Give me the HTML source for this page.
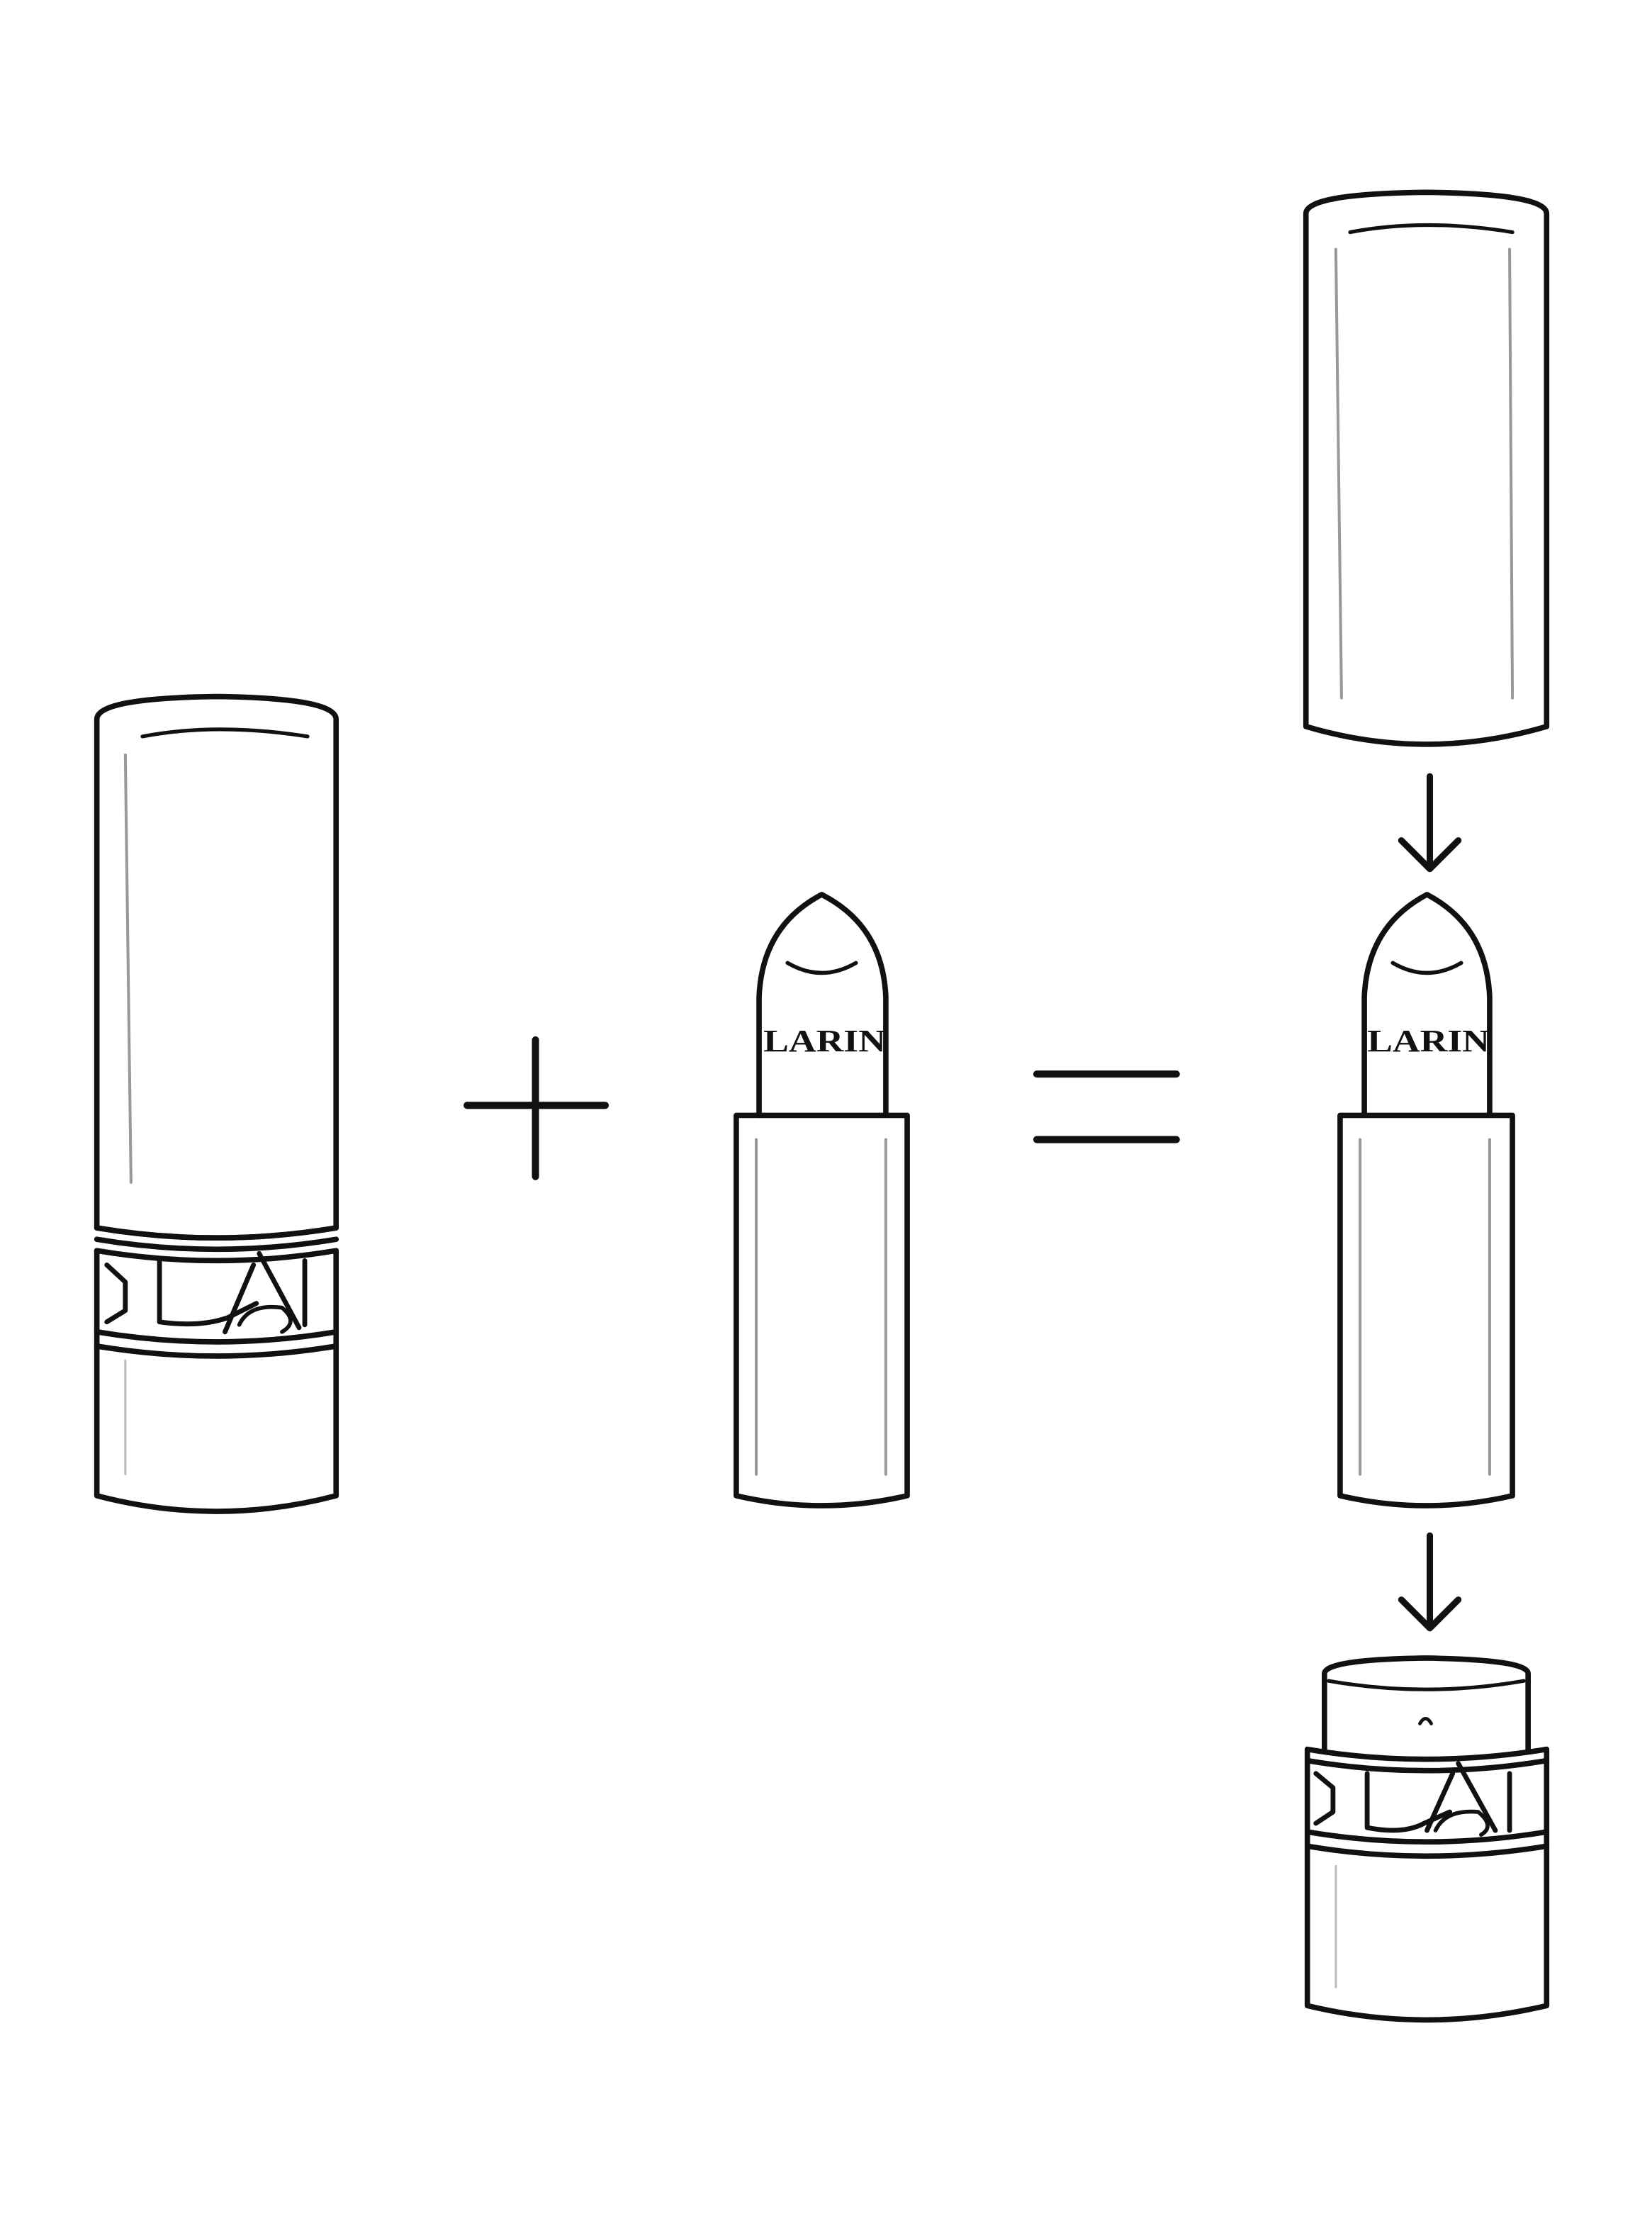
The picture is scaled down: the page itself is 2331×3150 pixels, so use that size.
<!DOCTYPE html>
<html><head><style>html,body{margin:0;padding:0;background:#fff}svg{display:block}</style></head>
<body>
<svg width="2331" height="3150" viewBox="0 0 1160 1567.6" preserveAspectRatio="none" xmlns="http://www.w3.org/2000/svg">
<g fill="none" stroke="#111" stroke-width="3.8" stroke-linecap="round" stroke-linejoin="round">
<!-- Left closed lipstick -->
<path d="M68 505 Q68 490 152 489 Q236 490 236 505 L236 862 Q152 876 68 862 Z"/>
<path d="M100 517 Q152 507 216 517" stroke-width="2.6"/>
<path d="M88 530 L92 830" stroke="#999" stroke-width="2"/>
<path d="M68 862 Q152 876 236 862 M68 870 Q152 884 236 870 M68 878 Q152 892 236 878"/>
<path d="M68 878 L68 1050 Q152 1072 236 1050 L236 878"/>
<path d="M68 935 Q152 949 236 935 M68 945 Q152 959 236 945"/>
<path d="M112 885 L112 928 Q140 932 160 925 L180 915 M178 888 L158 935 M182 880 L210 932 M214 885 L214 930 M75 888 L88 900 L88 920 L75 928" stroke-width="3.4"/>
<path d="M168 930 Q175 915 198 918 Q210 928 198 935" stroke-width="2.8"/>
<path d="M88 955 L88 1035" stroke="#bbb" stroke-width="1.5"/>
<!-- Plus & equals -->
<path d="M328 776 H425 M376 730 V826" stroke-width="5"/>
<path d="M728 754 H826 M728 800 H826" stroke-width="5"/>
<!-- Middle lipstick -->
<path d="M533 783 L533 700 Q535 650 577 628 Q620 650 622 700 L622 783"/>
<path d="M553 676 Q577 690 601 676" stroke-width="2.8"/>
<path d="M517 783 H637 V1050 Q577 1064 517 1050 Z"/>
<path d="M531 800 V1035 M622 800 V1035" stroke="#999" stroke-width="2"/>
<!-- Right top cap -->
<path d="M917 150 Q917 136 1001 135 Q1086 136 1086 150 L1086 510 Q1001 535 917 510 Z"/>
<path d="M948 163 Q1001 153 1062 163" stroke-width="2.6"/>
<path d="M938 175 L942 490 M1060 175 L1062 490" stroke="#999" stroke-width="2"/>
<!-- Arrows -->
<path d="M1004 545 V610 M984 590 L1004 610 L1024 590" stroke-width="4.5"/>
<path d="M1004 1078 V1143 M984 1123 L1004 1143 L1024 1123" stroke-width="4.5"/>
<!-- Right lipstick -->
<path d="M958 783 L958 700 Q960 650 1002 628 Q1044 650 1046 700 L1046 783"/>
<path d="M978 676 Q1002 690 1026 676" stroke-width="2.8"/>
<path d="M941 783 H1062 V1050 Q1001 1064 941 1050 Z"/>
<path d="M955 800 V1035 M1046 800 V1035" stroke="#999" stroke-width="2"/>
<!-- Right base -->
<path d="M930 1228 L930 1175 Q930 1165 1001 1164 Q1073 1165 1073 1175 L1073 1228"/>
<path d="M933 1180 Q1001 1192 1070 1180" stroke-width="2.6"/>
<path d="M997 1210 Q1001 1203 1005 1210" stroke-width="2.4"/>
<path d="M918 1228 Q1001 1242 1086 1228 L1086 1408 Q1001 1428 918 1408 Z"/>
<path d="M918 1236 Q1001 1250 1086 1236"/>
<path d="M918 1286 Q1001 1300 1086 1286 M918 1296 Q1001 1310 1086 1296"/>
<path d="M960 1245 L960 1283 Q985 1288 1000 1280 L1018 1272 M1020 1245 L1002 1285 M1024 1238 L1050 1285 M1060 1245 L1060 1285 M924 1245 L936 1255 L936 1272 L924 1280" stroke-width="3.4"/>
<path d="M1008 1285 Q1015 1270 1038 1272 Q1050 1282 1040 1288" stroke-width="2.8"/>
<path d="M938 1310 V1395" stroke="#bbb" stroke-width="1.5"/>
</g>
<g font-family="Liberation Serif, serif" font-weight="bold" font-size="22" fill="#111">
<text x="536" y="738" textLength="86" lengthAdjust="spacingAndGlyphs">LARIN</text>
<text x="960" y="738" textLength="86" lengthAdjust="spacingAndGlyphs">LARIN</text>
</g>
</svg>
</body></html>
